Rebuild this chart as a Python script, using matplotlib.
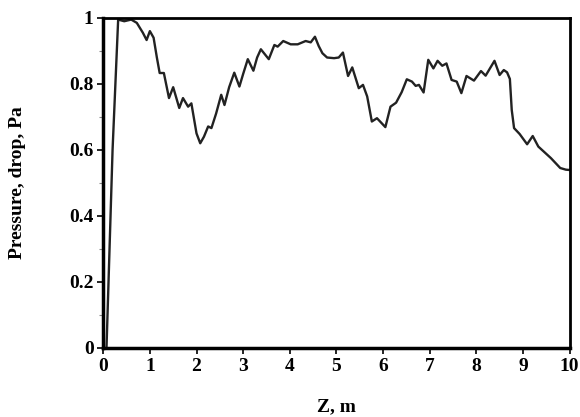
import matplotlib
matplotlib.use("agg")
import matplotlib.pyplot as plt
from matplotlib.ticker import MultipleLocator

# traced pressure drop curve
z = [0.07, 0.20, 0.32, 0.45, 0.60, 0.72, 0.85, 0.93, 1.00, 1.08, 1.15, 1.21, 1.30,
     1.41, 1.50, 1.63, 1.71, 1.82, 1.89, 2.00, 2.08, 2.16, 2.25, 2.32, 2.42, 2.53,
     2.60, 2.70, 2.81, 2.92, 3.00, 3.10, 3.22, 3.30, 3.38, 3.55, 3.67, 3.74, 3.86,
     4.02, 4.17, 4.34, 4.45, 4.54, 4.62, 4.70, 4.80, 4.95, 5.05, 5.14, 5.25, 5.34,
     5.48, 5.57, 5.66, 5.76, 5.87, 6.05, 6.16, 6.28, 6.40, 6.51, 6.62, 6.70, 6.77,
     6.87, 6.97, 7.08, 7.17, 7.27, 7.36, 7.47, 7.58, 7.68, 7.79, 7.95, 8.10, 8.20,
     8.39, 8.50, 8.59, 8.66, 8.72, 8.76, 8.81, 8.93, 9.09, 9.21, 9.33, 9.60, 9.80,
     9.92, 10.0]
p = [0.00, 0.60, 0.995, 0.99, 0.995, 0.985, 0.955, 0.933, 0.960, 0.940, 0.880, 0.833, 0.833,
     0.757, 0.790, 0.727, 0.757, 0.731, 0.741, 0.650, 0.620, 0.640, 0.671, 0.666, 0.710, 0.767,
     0.736, 0.790, 0.834, 0.792, 0.830, 0.875, 0.840, 0.880, 0.905, 0.875, 0.918, 0.913, 0.930,
     0.920, 0.920, 0.930, 0.926, 0.943, 0.915, 0.893, 0.880, 0.878, 0.880, 0.895, 0.824, 0.850,
     0.787, 0.797, 0.762, 0.686, 0.696, 0.669, 0.731, 0.743, 0.775, 0.814, 0.807, 0.794, 0.797,
     0.774, 0.873, 0.847, 0.870, 0.855, 0.862, 0.812, 0.807, 0.772, 0.824, 0.810, 0.839, 0.825,
     0.870, 0.827, 0.842, 0.835, 0.815, 0.721, 0.666, 0.648, 0.617, 0.642, 0.610, 0.575, 0.545,
     0.540, 0.539]

plt.rcParams['font.family'] = ['Liberation Serif', 'DejaVu Serif']
plt.rcParams['font.weight'] = 'bold'

fig = plt.figure(figsize=(5.8, 4.17), dpi=100)
ax = fig.add_axes([0.178, 0.166, 0.804, 0.791])
ax.plot(z, p, color='#222222', linewidth=1.7)

ax.set_xlim(0, 10)
ax.set_ylim(0, 1)
ax.xaxis.set_major_locator(MultipleLocator(1))
ax.yaxis.set_major_locator(MultipleLocator(0.2))
ax.yaxis.set_minor_locator(MultipleLocator(0.1))
ax.yaxis.set_major_formatter(plt.FuncFormatter(lambda v, pos: '%g' % round(v, 1)))
ax.tick_params(axis='both', which='major', direction='out', length=4, width=1.2,
               labelsize=14, pad=3)
ax.tick_params(axis='y', which='minor', direction='out', length=3, width=0.8,
               color='#888888')
for lab in ax.get_xticklabels() + ax.get_yticklabels():
    lab.set_fontweight('bold')

ax.spines['left'].set_linewidth(2.5)
ax.spines['bottom'].set_linewidth(2.5)
ax.spines['top'].set_linewidth(2)
ax.spines['right'].set_linewidth(2)

ax.set_xlabel('Z, m', fontsize=14, fontweight='bold', labelpad=17)
ax.set_ylabel('Pressure, drop, Pa', fontsize=14, fontweight='bold', labelpad=31)

fig.savefig('out.png', dpi=100)
